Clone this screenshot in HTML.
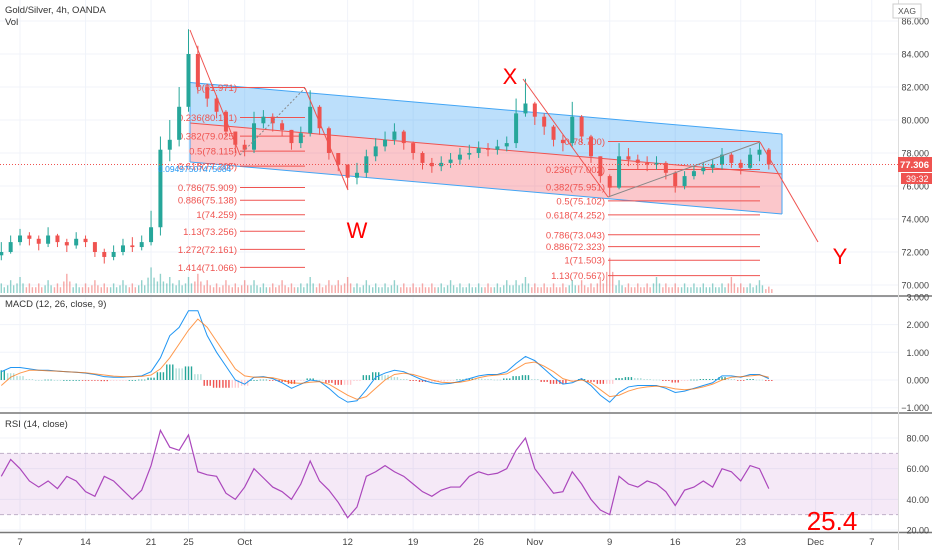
<!DOCTYPE html>
<html><head><meta charset="utf-8"><style>
body{margin:0;background:#fff;width:932px;height:550px;overflow:hidden;font-family:"Liberation Sans",sans-serif}
svg{display:block}
text{font-family:"Liberation Sans",sans-serif}
</style></head><body>
<svg id="c" width="932" height="550"></svg>
<script>
const dayLabels=["7","14","21","25","Oct","12","19","26","Nov","9","16","23","Dec","7"];
const dayLabelIdx=[2,9,16,20,26,37,44,51,57,65,72,79,87,93];
const closes=[72.0,72.6,73.0,72.8,72.5,73.0,72.6,72.4,72.8,72.6,72.0,71.7,72.0,72.4,72.3,72.6,73.5,78.2,78.8,80.8,84.0,82.0,81.3,80.5,79.3,78.5,78.2,79.8,80.2,79.8,79.4,78.6,79.2,80.8,79.5,78.0,77.3,76.5,76.8,77.8,78.4,78.8,79.3,78.6,78.0,77.4,77.2,77.4,77.6,77.9,78.0,78.3,78.2,78.4,78.6,80.4,81.0,80.2,79.6,78.8,78.6,80.2,79.0,77.8,76.6,75.9,77.8,77.6,77.4,77.3,77.4,76.8,76.0,76.6,76.9,77.1,77.3,77.9,77.4,77.1,77.9,78.2,77.3];
const highs=[72.6,73.0,73.4,73.2,73.0,73.5,73.1,72.8,73.2,73.0,72.6,72.2,72.4,72.8,72.9,73.0,74.5,79.0,80.0,82.0,85.5,84.5,82.2,81.5,80.6,79.3,78.8,80.5,80.6,80.4,80.0,79.4,79.6,81.8,80.9,79.6,78.0,77.3,77.4,78.2,78.9,79.3,79.8,79.4,78.7,78.1,77.7,77.8,78.0,78.3,78.5,78.7,78.6,78.8,79.0,81.3,82.5,81.1,80.4,79.7,79.1,81.1,80.3,79.1,77.8,76.7,78.6,78.3,77.9,77.8,77.8,77.5,76.9,76.9,77.2,77.4,77.6,78.3,78.0,77.6,78.3,78.6,78.3];
const lows=[71.5,71.9,72.4,72.4,72.1,72.3,72.3,72.0,72.2,72.3,71.7,71.3,71.5,71.8,72.0,72.1,72.4,73.0,77.5,78.4,80.5,81.6,80.8,80.1,79.0,78.0,77.8,78.0,79.5,79.3,79.0,78.2,78.3,79.0,79.1,77.6,76.9,75.8,76.1,76.5,77.5,78.1,78.5,78.2,77.6,77.0,76.8,76.9,77.1,77.3,77.6,77.7,77.8,77.9,78.1,78.3,80.2,79.7,79.1,78.4,78.1,78.4,78.6,77.4,76.2,75.4,75.8,77.2,77.0,76.9,77.0,76.4,75.6,75.8,76.4,76.7,76.8,77.0,77.1,76.7,77.0,77.5,77.0];
const volumes=[3,4,5,3,3,4,3,6,3,3,4,3,3,4,3,4,8,6,5,4,5,6,4,3,4,3,4,4,3,3,4,3,3,5,3,4,4,5,3,4,3,3,4,3,3,3,3,3,4,3,3,3,3,3,4,4,5,3,3,3,3,4,4,3,5,11,4,3,3,3,5,3,3,3,3,3,3,3,5,3,3,4,2];
const macdVals=[0.3,0.45,0.45,0.4,0.35,0.35,0.32,0.3,0.28,0.25,0.2,0.12,0.1,0.1,0.12,0.15,0.3,0.8,1.6,1.9,2.5,2.5,1.6,1.0,0.5,0.0,-0.15,0.1,0.12,0.05,-0.1,-0.3,-0.15,0.0,-0.05,-0.3,-0.6,-0.8,-0.75,-0.35,0.1,0.25,0.35,0.3,0.15,0.0,-0.1,-0.15,-0.12,-0.05,0.05,0.15,0.2,0.2,0.3,0.6,0.85,0.7,0.4,0.1,-0.15,-0.1,0.05,-0.2,-0.55,-0.8,-0.45,-0.25,-0.2,-0.2,-0.2,-0.3,-0.45,-0.4,-0.3,-0.2,-0.1,0.15,0.15,0.1,0.2,0.2,0.05];
const signalVals=[-0.2,0.1,0.25,0.35,0.35,0.33,0.32,0.3,0.28,0.26,0.22,0.18,0.14,0.12,0.12,0.13,0.18,0.4,0.8,1.3,1.8,2.2,1.9,1.4,0.9,0.4,0.15,0.1,0.1,0.08,0.0,-0.1,-0.12,-0.08,-0.06,-0.15,-0.35,-0.55,-0.7,-0.6,-0.3,0.0,0.2,0.25,0.2,0.1,0.0,-0.08,-0.1,-0.08,-0.02,0.08,0.15,0.18,0.22,0.4,0.6,0.65,0.5,0.3,0.05,-0.05,0.0,-0.1,-0.35,-0.6,-0.55,-0.4,-0.3,-0.25,-0.22,-0.25,-0.32,-0.35,-0.32,-0.25,-0.15,0.0,0.1,0.12,0.15,0.18,0.1];
const rsiVals=[55,66,60,52,48,52,47,55,52,45,42,55,52,46,40,46,62,85,74,72,82,58,56,55,44,40,48,60,54,48,45,40,50,65,52,46,38,28,35,55,58,62,58,55,50,45,42,46,48,48,55,58,56,57,60,72,80,60,52,44,45,58,50,40,33,30,55,50,48,52,50,45,36,46,48,52,48,60,58,52,62,60,47];
const priceTicks=[86,84,82,80,78,76,74,72,70];
const macdTicks=[3,2,1,0,-1];
const rsiTicks=[80,60,40,20];
const fibLeft={p0:81.971,p1:74.259,levels:[0,0.236,0.382,0.5,0.618,0.786,0.886,1,1.13,1.272,1.414,1.618]};
const fibRight={p0:78.700,p1:71.503,levels:[0,0.236,0.382,0.5,0.618,0.786,0.886,1,1.13,1.272]};

const NS="http://www.w3.org/2000/svg";
const svg=document.getElementById('c');
function el(t,a,p){const e=document.createElementNS(NS,t);for(const k in a)e.setAttribute(k,a[k]);(p||svg).appendChild(e);return e;}
const xD=i=>1.3+9.36*i;
const yP=p=>21+(86-p)*16.5;
const yM=v=>380-v*27.7;
const yR=v=>530-(v-20)*1.533;
const UP="#26a69a",DN="#ef5350";

const grid=el('g',{});

dayLabelIdx.forEach(i=>{el('line',{x1:xD(i),x2:xD(i),y1:0,y2:532,stroke:'#f0f3fa'},grid)});
priceTicks.forEach(p=>el('line',{x1:0,x2:898,y1:yP(p),y2:yP(p),stroke:'#f0f3fa'},grid));
macdTicks.forEach(p=>el('line',{x1:0,x2:898,y1:yM(p),y2:yM(p),stroke:'#f0f3fa'},grid));
rsiTicks.forEach(p=>el('line',{x1:0,x2:898,y1:yR(p),y2:yR(p),stroke:'#f0f3fa'},grid));

const ch=el('g',{});
const xe=782;
el('polygon',{points:`190,82.5 ${xe},134 ${xe},174 190,123`,fill:'rgba(33,150,243,0.3)'},ch);
el('polygon',{points:`190,123 ${xe},174 ${xe},214 190,162`,fill:'rgba(242,54,69,0.28)'},ch);
el('line',{x1:190,y1:82.5,x2:xe,y2:134,stroke:'#42a5f5','stroke-width':1},ch);
el('line',{x1:190,y1:162,x2:xe,y2:214,stroke:'#42a5f5','stroke-width':1},ch);
el('line',{x1:190,y1:123,x2:xe,y2:174,stroke:'#ef5350','stroke-width':1},ch);
el('line',{x1:xe,y1:134,x2:xe,y2:214,stroke:'#42a5f5','stroke-width':1},ch);
el('line',{x1:190,y1:82.5,x2:190,y2:162,stroke:'#42a5f5','stroke-width':1},ch);

function fib(f,xl,xr,lx,name){
  const g=el('g',{});
  f.levels.forEach(l=>{const p=f.p0-(f.p0-f.p1)*l;const y=yP(p);
    if(y>292)return;
    el('line',{x1:xl,x2:xr,y1:y,y2:y,stroke:'#ef5350','stroke-width':1},g);
    const t=el('text',{x:lx,y:y+3.5,'text-anchor':'end','font-size':9.5,fill:'#ef5350'},g);t.textContent=l+'('+p.toFixed(3)+')';});
}
fib(fibLeft,240,305,237,'fib-retracement-left');
fib(fibRight,608,760,605,'fib-retracement-right');
el('line',{x1:210,x2:305,y1:yP(81.971),y2:yP(81.971),stroke:'#ef5350'});

const vg=el('g',{});
volumes.forEach((v,i)=>{const up=closes[i]>=(i?closes[i-1]:closes[i]);const h=v*3.2;
  [-3,0,3].forEach((dx,k)=>{const hh=h*(k==1?1:0.6);
  const r=el('rect',{x:xD(i)+dx-0.7,y:293-hh,width:1.4,height:hh,fill:up?'rgba(38,166,154,0.5)':'rgba(239,83,80,0.5)'},vg);
  });});

const cg=el('g',{});
closes.forEach((c,i)=>{const o=i?closes[i-1]:c-0.2;const up=c>=o;const col=up?UP:DN;
  el('line',{x1:xD(i),x2:xD(i),y1:yP(highs[i]),y2:yP(lows[i]),stroke:col},cg);
  const r=el('rect',{x:xD(i)-2,y:yP(Math.max(o,c)),width:4,height:Math.max(1,Math.abs(yP(o)-yP(c))),fill:col},cg);
  });

const zz=el('g',{fill:'none'});
el('polyline',{points:'190,30 240,155',stroke:'#ef5350'},zz);
el('line',{x1:240,y1:155,x2:305,y2:88,stroke:'#888','stroke-dasharray':'2,2'},zz);
el('polyline',{points:'305,88 348,190',stroke:'#ef5350'},zz);
el('polyline',{points:'523,79 608,197',stroke:'#ef5350'},zz);
el('line',{x1:608,y1:197,x2:760,y2:142,stroke:'#888'},zz);
el('polyline',{points:'760,142 818,242',stroke:'#ef5350'},zz);
[['W',357,238],['X',510,84],['Y',840,264]].forEach(([s,x,y])=>{const t=el('text',{x,y,'text-anchor':'middle','font-size':22,fill:'#f00'});t.textContent=s;
  });
const bt=el('text',{x:158,y:172,'font-size':8.5,fill:'#2196f3'});bt.textContent='0.09497507475084';


el('line',{x1:0,x2:898,y1:yP(77.306),y2:yP(77.306),stroke:'#ef5350','stroke-dasharray':'1,2','stroke-width':1});

const mg=el('g',{});
macdVals.forEach((m,i)=>{const h=m-signalVals[i];const prev=i?macdVals[i-1]-signalVals[i-1]:h;
  const col=h>=0?(h>=prev?'#26a69a':'#b2dfdb'):(h<prev?'#ef5350':'#ffcdd2');
  const y1=yM(0),y2=yM(h*0.7);
  [-3,0,3].forEach(dx=>{
  const r=el('rect',{x:xD(i)+dx-0.7,y:Math.min(y1,y2),width:1.4,height:Math.max(0.8,Math.abs(y2-y1)),fill:col},mg);
  });});
const ml=el('polyline',{points:macdVals.map((v,i)=>xD(i)+','+yM(v)).join(' '),fill:'none',stroke:'#2196f3','stroke-width':1},mg);

const sl=el('polyline',{points:signalVals.map((v,i)=>xD(i)+','+yM(v)).join(' '),fill:'none',stroke:'#ff6d00','stroke-opacity':0.7,'stroke-width':1},mg);


const rg=el('g',{});
el('rect',{x:0,y:yR(70),width:898,height:yR(30)-yR(70),fill:'rgba(156,39,176,0.1)'},rg);
[70,30].forEach(v=>el('line',{x1:0,x2:898,y1:yR(v),y2:yR(v),stroke:'#c0b0c8','stroke-dasharray':'4,3'},rg));
const rl=el('polyline',{points:rsiVals.map((v,i)=>xD(i)+','+yR(v)).join(' '),fill:'none',stroke:'#ab47bc','stroke-width':1.2},rg);


el('rect',{x:898,y:0,width:34,height:550,fill:'#fff'});
el('line',{x1:0,x2:932,y1:296,y2:296,stroke:'#777','stroke-width':1.5});
el('line',{x1:0,x2:932,y1:413,y2:413,stroke:'#777','stroke-width':1.5});
el('line',{x1:0,x2:932,y1:532.5,y2:532.5,stroke:'#777','stroke-width':1.5});
el('line',{x1:898.5,x2:898.5,y1:0,y2:550,stroke:'#ddd'});
function axisLabels(ticks,fy,fmt,name){const g=el('g',{});
  ticks.forEach(v=>{const t=el('text',{x:929,y:fy(v)+3.5,'text-anchor':'end','font-size':9,fill:'#444'},g);t.textContent=fmt(v);});}
axisLabels(priceTicks,yP,v=>v.toFixed(3),'price-axis');
axisLabels(macdTicks,yM,v=>(v<0?'\u2212':'')+Math.abs(v).toFixed(3),'macd-axis');
axisLabels(rsiTicks,yR,v=>v.toFixed(2),'rsi-axis');
const xg=el('g',{});
dayLabels.forEach((s,k)=>{const t=el('text',{x:xD(dayLabelIdx[k]),y:545,'text-anchor':'middle','font-size':9.5,fill:'#444'},xg);t.textContent=s;});

const pb=el('g',{});
el('rect',{x:898,y:157,width:34,height:15,fill:'#ef5350'},pb);
let t=el('text',{x:929,y:168,'text-anchor':'end','font-size':9.5,fill:'#fff','font-weight':'bold'},pb);t.textContent='77.306';
el('rect',{x:901,y:173,width:31,height:11,fill:'#ef5350'},pb);
t=el('text',{x:906,y:182,'font-size':9,fill:'#fff'},pb);t.textContent='39:32';
el('rect',{x:893,y:4,width:28,height:14,fill:'#fff',stroke:'#ccc'});
t=el('text',{x:907,y:14,'text-anchor':'middle','font-size':8.5,fill:'#555'});t.textContent='XAG';


[['Gold/Silver, 4h, OANDA',5,13,'symbol-title'],['Vol',5,25,'volume-legend'],['MACD (12, 26, close, 9)',5,307,'macd-legend'],['RSI (14, close)',5,427,'rsi-legend']].forEach(([s,x,y,n])=>{
  const e=el('text',{x,y,'font-size':9.5,fill:'#333'});e.textContent=s;});
t=el('text',{x:832,y:530,'text-anchor':'middle','font-size':26,fill:'#f00'});t.textContent='25.4';

</script>
</body></html>
